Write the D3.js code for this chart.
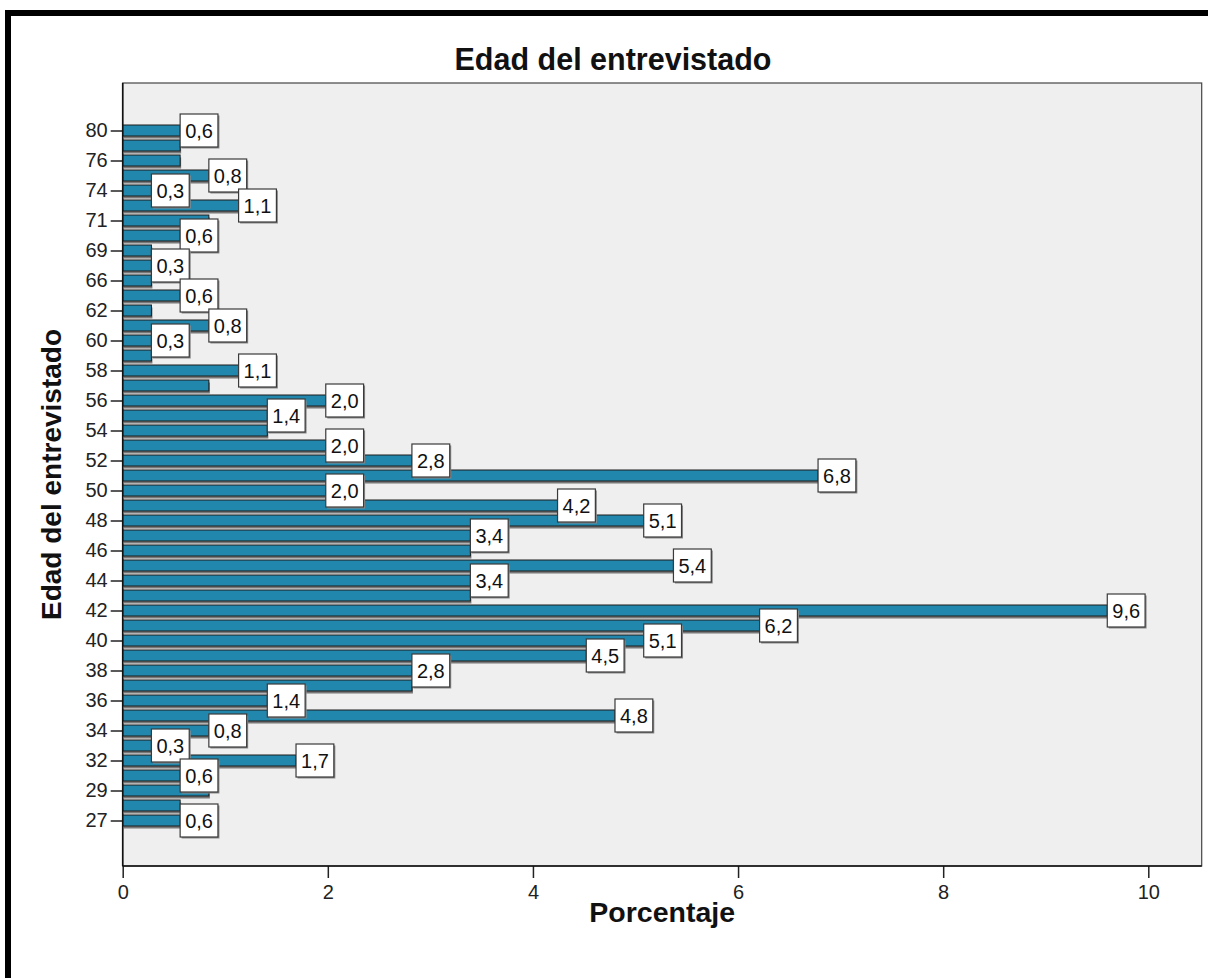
<!DOCTYPE html>
<html>
<head>
<meta charset="utf-8">
<script src="https://cdn.jsdelivr.net/npm/d3@7"></script>
<style>
  html, body { margin: 0; padding: 0; background: #ffffff; }
  svg { display: block; }
  text { font-family: "Liberation Sans", Arial, sans-serif; }
</style>
</head>
<body>
<svg id="chart" width="1208" height="978"></svg>
<script>
// ---- data ----
const ages = [27, 28, 29, 31, 32, 33, 34, 35, 36, 37, 38, 39, 40, 41, 42, 43, 44, 45, 46, 47,
              48, 49, 50, 51, 52, 53, 54, 55, 56, 57, 58, 59, 60, 61, 62, 64, 66, 67, 69, 70,
              71, 72, 74, 75, 76, 78, 80];
const percents = [0.56, 0.56, 0.84, 0.56, 1.69, 0.28, 0.84, 4.80, 1.41, 2.82, 2.82, 4.52, 5.08, 6.21, 9.60, 3.39, 3.39, 5.37, 3.39, 3.39,
                  5.08, 4.24, 1.98, 6.78, 2.82, 1.98, 1.41, 1.41, 1.98, 0.84, 1.13, 0.28, 0.28, 0.84, 0.28, 0.56, 0.28, 0.28, 0.28, 0.56,
                  0.84, 1.13, 0.28, 0.84, 0.56, 0.56, 0.56];
const labeledAges = [80, 75, 74, 72, 70, 67, 64, 61, 60, 58, 56, 55, 53, 52, 51, 50, 49, 48, 47, 45, 44,
                     42, 41, 40, 39, 38, 36, 35, 34, 33, 32, 31, 27];
const tickAges = ages.filter((a, i) => i % 2 === 0);
const xTicks = [0, 2, 4, 6, 8, 10];
const titleText = "Edad del entrevistado";
const yTitle = "Edad del entrevistado";
const xTitle = "Porcentaje";

// ---- layout ----
const svg = d3.select("#chart");
const plot = { left: 122.7, right: 1201.7, top: 83, bottom: 866 };
const barColor = "#2187ad";

const x = d3.scaleLinear().domain([0, 10]).range([plot.left, 1148.3]);
const agesDesc = ages.slice().reverse();
const y = d3.scalePoint().domain(agesDesc).range([130.5, 820.5]);
const barH = 11;
const fmt = v => (Math.round(v * 10) / 10).toFixed(1).replace(".", ",");

const rows = ages.map((a, i) => ({ age: a, v: percents[i] }));

// outer frame (top and left visible)
svg.append("rect").attr("x", 5).attr("y", 10).attr("width", 6).attr("height", 978).attr("fill", "#000");
svg.append("rect").attr("x", 5).attr("y", 10).attr("width", 1203).attr("height", 6).attr("fill", "#000");

// plot background
svg.append("rect")
  .attr("x", plot.left).attr("y", plot.top)
  .attr("width", plot.right - plot.left).attr("height", plot.bottom - plot.top)
  .attr("fill", "#efefef").attr("stroke", "#444").attr("stroke-width", 1.2);

// bar shadows
svg.append("g").selectAll("rect").data(rows).join("rect")
  .attr("x", plot.left + 1)
  .attr("y", d => y(d.age) - barH / 2 + 2.5)
  .attr("width", d => x(d.v) - plot.left)
  .attr("height", barH)
  .attr("fill", "#787878");

// bars
svg.append("g").selectAll("rect").data(rows).join("rect")
  .attr("x", plot.left)
  .attr("y", d => y(d.age) - barH / 2)
  .attr("width", d => x(d.v) - plot.left)
  .attr("height", barH)
  .attr("fill", barColor)
  .attr("stroke", "#1c1c1c").attr("stroke-width", 1);

// axes
const yAxis = d3.axisLeft(y).tickValues(tickAges).tickSize(12).tickPadding(3);
const gy = svg.append("g").attr("transform", `translate(${plot.left},0)`).call(yAxis);
gy.select(".domain").remove();
gy.selectAll(".tick line").attr("stroke", "#222").attr("stroke-width", 1.5);
gy.selectAll(".tick text").attr("font-size", 20).attr("fill", "#222")
  .attr("font-family", "Liberation Sans, Arial, sans-serif");

const xAxis = d3.axisBottom(x).tickValues(xTicks).tickSize(12).tickPadding(7).tickFormat(d3.format("d"));
const gx = svg.append("g").attr("transform", `translate(0,${plot.bottom})`).call(xAxis);
gx.select(".domain").remove();
gx.selectAll(".tick line").attr("stroke", "#222").attr("stroke-width", 1.5);
gx.selectAll(".tick text").attr("font-size", 20).attr("fill", "#222")
  .attr("font-family", "Liberation Sans, Arial, sans-serif");

// axis lines
svg.append("line").attr("x1", plot.left).attr("x2", plot.left).attr("y1", plot.top).attr("y2", plot.bottom)
  .attr("stroke", "#111").attr("stroke-width", 1.6);
svg.append("line").attr("x1", plot.left).attr("x2", plot.right).attr("y1", plot.bottom).attr("y2", plot.bottom)
  .attr("stroke", "#111").attr("stroke-width", 1.6);

// value labels (drawn top to bottom so lower ones overlay)
const labelRows = rows.filter(d => labeledAges.includes(d.age)).sort((a, b) => b.age - a.age);
const gl = svg.append("g");
labelRows.forEach(d => {
  const g = gl.append("g");
  const t = g.append("text").text(fmt(d.v)).attr("font-size", 20).attr("fill", "#111")
    .attr("text-anchor", "middle");
  const w = t.node().getComputedTextLength() + 10;
  const h = 33;
  const bx = x(d.v), by = y(d.age) - h / 2;
  g.insert("rect", "text").attr("x", bx + 1.5).attr("y", by + 1.5).attr("width", w).attr("height", h)
    .attr("fill", "#8a8a8a");
  g.insert("rect", "text").attr("x", bx).attr("y", by).attr("width", w).attr("height", h)
    .attr("fill", "#fff").attr("stroke", "#3a3a3a").attr("stroke-width", 1.2);
  t.attr("x", bx + w / 2).attr("y", y(d.age) + 7);
});

// titles
svg.append("text").attr("x", 613).attr("y", 70).attr("text-anchor", "middle")
  .attr("font-size", 30.5).attr("font-weight", "bold").attr("fill", "#111").text(titleText);
svg.append("text").attr("transform", `translate(61,${(plot.top + plot.bottom) / 2}) rotate(-90)`)
  .attr("text-anchor", "middle").attr("font-size", 28).attr("font-weight", "bold").attr("fill", "#111").text(yTitle);
svg.append("text").attr("x", (plot.left + plot.right) / 2).attr("y", 922).attr("text-anchor", "middle")
  .attr("font-size", 28.5).attr("font-weight", "bold").attr("fill", "#111").text(xTitle);
</script>
</body>
</html>
